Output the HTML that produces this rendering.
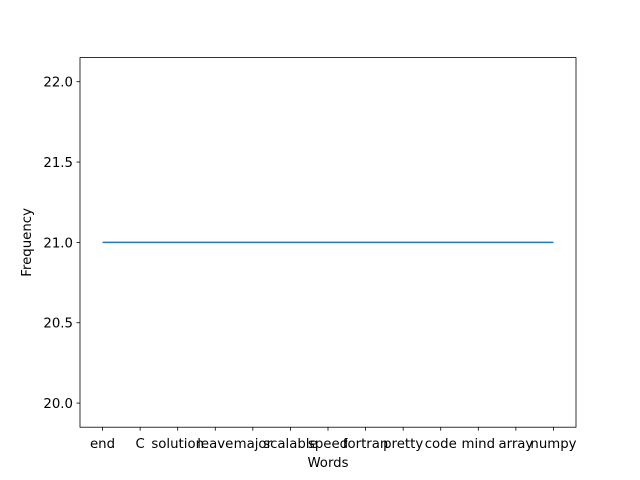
<!DOCTYPE html>
<html><head><meta charset="utf-8"><style>body{margin:0;background:#fff}svg{display:block;font-family:"DejaVu Sans","Liberation Sans",sans-serif}</style></head>
<body>
<svg id="chart" width="640" height="480" xmlns="http://www.w3.org/2000/svg"></svg>
<script>
const categories=["end","C","solution","leave","major","scalable","speed","fortran","pretty","code","mind","array","numpy"];
const values=[21,21,21,21,21,21,21,21,21,21,21,21,21];
const yTicks=[20.0,20.5,21.0,21.5,22.0];
const yTickLabels=["20.0","20.5","21.0","21.5","22.0"];
const NS="http://www.w3.org/2000/svg";
const svg=document.getElementById('chart');
const L=80,R=576,T=57.6,B=427.2;
const yMin=19.85,yMax=22.15;
const n=categories.length;
const xs=i=>L+(i+0.6)*(R-L)/((n-1)*1.1);
const ys=v=>B-(v-yMin)/(yMax-yMin)*(B-T);
function mk(tag,attrs,parent){const e=document.createElementNS(NS,tag);for(const k in attrs)e.setAttribute(k,attrs[k]);(parent||svg).appendChild(e);return e;}
const ax=mk('rect',{x:L,y:T,width:R-L,height:B-T,fill:'none',stroke:'#000','stroke-width':0.8});


categories.forEach((c,i)=>{
  const x=xs(i);
  const t=mk('line',{x1:x,x2:x,y1:B,y2:B+3.5,stroke:'#000','stroke-width':0.8});
  
  
  const l=mk('text',{x:x,y:B+21,'text-anchor':'middle','font-size':13.3});
  l.textContent=c;
  
  
});
yTicks.forEach((v,i)=>{
  const y=ys(v);
  const t=mk('line',{x1:L-3.5,x2:L,y1:y,y2:y,stroke:'#000','stroke-width':0.8});
  
  
  const l=mk('text',{x:L-7,y:y+5,'text-anchor':'end','font-size':13.3});
  l.textContent=yTickLabels[i];
  
  
});
const pts=values.map((v,i)=>xs(i)+','+ys(v)).join(' ');
const line=mk('polyline',{points:pts,fill:'none',stroke:'#1f77b4','stroke-width':1.5});


const xt=mk('text',{x:(L+R)/2,y:467,'text-anchor':'middle','font-size':13.3});
xt.textContent='Words';


const yt=mk('text',{x:0,y:0,'text-anchor':'middle','font-size':13.3,transform:'translate(31,'+((T+B)/2)+') rotate(-90)'});
yt.textContent='Frequency';


</script>
</body></html>
